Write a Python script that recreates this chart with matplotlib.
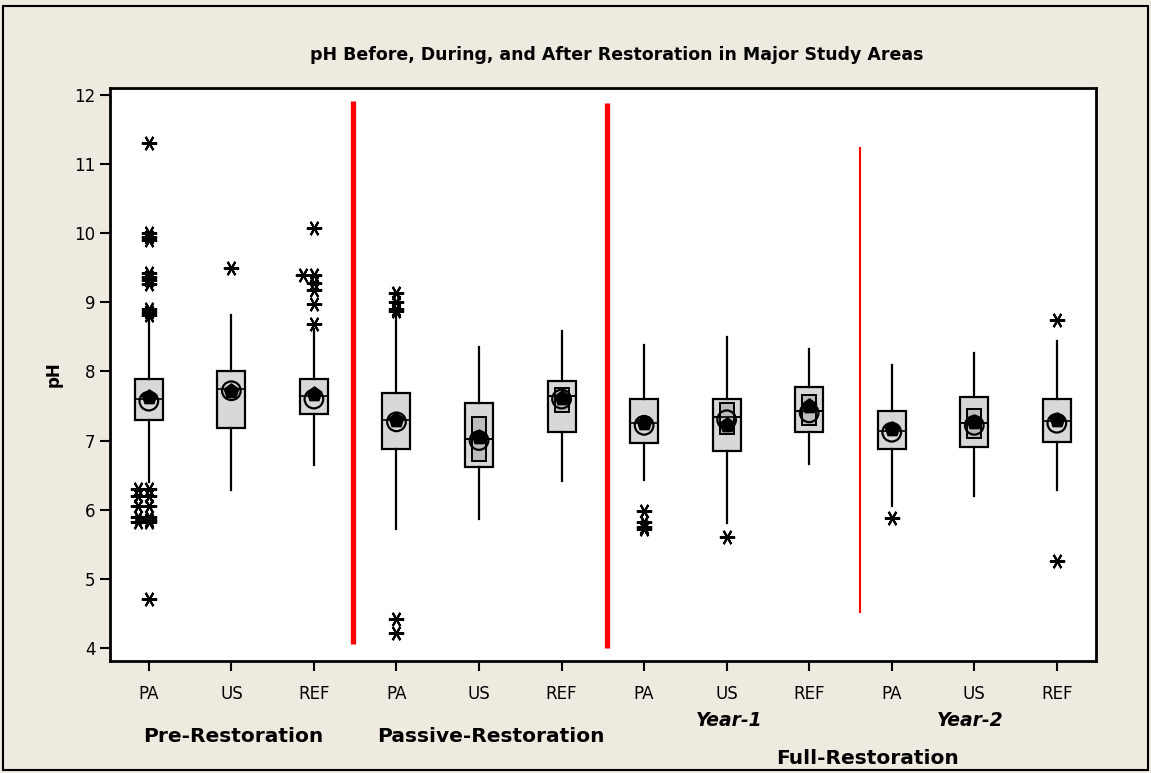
import matplotlib.pyplot as plt
from matplotlib.patches import Rectangle
import matplotlib.transforms as mtransforms
import numpy as np

# ---- data ----
site_labels = ['PA', 'US', 'REF'] * 4
q1 = [7.30, 7.18, 7.39, 6.87, 6.61, 7.13, 6.96, 6.85, 7.13, 6.87, 6.90, 6.98]
median = [7.60, 7.75, 7.64, 7.30, 7.02, 7.65, 7.26, 7.34, 7.42, 7.14, 7.26, 7.28]
q3 = [7.89, 8.00, 7.89, 7.69, 7.54, 7.86, 7.60, 7.60, 7.78, 7.42, 7.63, 7.60]
whisker_low = [6.40, 6.29, 6.64, 5.72, 5.86, 6.41, 6.43, 5.81, 6.66, 6.05, 6.19, 6.29]
whisker_high = [8.81, 8.81, 8.62, 8.86, 8.35, 8.59, 8.38, 8.50, 8.33, 8.09, 8.27, 8.44]
# median confidence boxes (None where not visible)
ci_low = [None, None, None, None, 6.70, 7.41, None, 7.09, 7.22, None, 7.04, None]
ci_high = [None, None, None, None, 7.34, 7.76, None, 7.54, 7.66, None, 7.46, None]
mean_circle = [7.57, 7.72, 7.60, 7.27, 7.00, 7.60, 7.22, 7.30, 7.40, 7.12, 7.22, 7.25]
mean_filled = [7.63, 7.72, 7.67, 7.30, 7.05, 7.62, 7.26, 7.22, 7.50, 7.17, 7.27, 7.30]
outliers = [
    [11.30, 10.00, 9.95, 9.90, 9.42, 9.37, 9.32, 9.27, 8.90, 8.86, 8.82,
     6.30, 6.30, 6.20, 6.20, 6.05, 6.05, 5.90, 5.90, 5.85, 5.82, 5.82, 4.70],
    [9.50],
    [10.08, 9.40, 9.40, 9.28, 9.18, 8.98, 8.69],
    [9.13, 9.00, 8.90, 8.87, 4.42, 4.22],
    [],
    [],
    [5.98, 5.82, 5.75, 5.72],
    [5.60],
    [],
    [5.88],
    [],
    [8.75, 5.25],
]
period_labels = ['Pre-Restoration', 'Passive-Restoration', 'Full-Restoration']
year_labels = ['Year-1', 'Year-2']
divider_x = [3.47, 6.55, 9.62]
divider_low = [4.06, 3.99, 4.50]
divider_high = [11.91, 11.88, 11.25]

bg = '#eeeae0'
fig = plt.figure(figsize=(11.51, 7.73), dpi=100, facecolor=bg)
ax = fig.add_axes([0.0956, 0.145, 0.857, 0.741])
ax.set_facecolor('white')

positions = np.arange(1, len(site_labels) + 1)
stats = []
for i in range(len(site_labels)):
    stats.append(dict(med=median[i], q1=q1[i], q3=q3[i],
                      whislo=whisker_low[i], whishi=whisker_high[i], fliers=[]))

ax.bxp(stats, positions=positions, widths=0.34, patch_artist=True, showcaps=False,
       boxprops=dict(facecolor='#d8d8d8', edgecolor='black', linewidth=1.6),
       whiskerprops=dict(color='black', linewidth=1.6),
       medianprops=dict(color='black', linewidth=1.2),
       showfliers=False, zorder=2)

# inner confidence boxes
for i, (lo, hi) in enumerate(zip(ci_low, ci_high)):
    if lo is None:
        continue
    p = positions[i]
    ax.add_patch(Rectangle((p - 0.085, lo), 0.17, hi - lo, facecolor='#bdbdbd',
                           edgecolor='black', linewidth=1.4, zorder=3))
    ax.hlines(median[i], p - 0.17, p + 0.17, color='black', linewidth=1.2, zorder=3.5)

# mean symbols
ax.scatter(positions, mean_filled, marker='p', s=120, color='black', zorder=4)
ax.scatter(positions, mean_circle, marker='o', s=180, facecolors='none',
           edgecolors='black', linewidths=1.6, zorder=5)

# outliers, side by side where values coincide
dodge = [0, -0.13, 0.13, -0.065, 0.065]
for p, vals in zip(positions, outliers):
    placed = []
    for v in vals:
        n = sum(abs(v - u) < 0.02 for u in placed)
        placed.append(v)
        ax.plot(p + dodge[n % len(dodge)], v, linestyle='none', marker=(6, 2, 90),
                markersize=11, markeredgewidth=1.5, color='black', zorder=6)

# red dividers
ax.vlines(divider_x[:2], divider_low[:2], divider_high[:2], color='red', linewidth=3.8, zorder=1)
ax.vlines(divider_x[2], divider_low[2], divider_high[2], color='red', linewidth=1.5, zorder=1)

ax.set_xlim(0.53, 12.48)
ax.set_ylim(3.81, 12.10)
ax.set_xticks(positions)
ax.set_xticklabels(site_labels, fontsize=12)
ax.set_yticks(np.arange(4, 13, 1))
ax.tick_params(axis='y', labelsize=12, length=7, width=1.5, direction='out')
ax.tick_params(axis='x', labelsize=12, length=7, width=1.5, direction='out', pad=10)
for s in ax.spines.values():
    s.set_linewidth(2)
ax.set_ylabel('pH', fontsize=12, weight='bold', labelpad=8)

fig.text(617 / 1151, 1 - 55 / 773, 'pH Before, During, and After Restoration in Major Study Areas',
         ha='center', va='center', fontsize=12.5, weight='bold')

# group labels under the axis
trans = mtransforms.blended_transform_factory(ax.transData, fig.transFigure)
ax.text(2.02, 1 - 737 / 773, period_labels[0], transform=trans, ha='center', va='center',
        fontsize=14.5, weight='bold')
ax.text(5.14, 1 - 737 / 773, period_labels[1], transform=trans, ha='center', va='center',
        fontsize=14.5, weight='bold')
ax.text(9.71, 1 - 758 / 773, period_labels[2], transform=trans, ha='center', va='center',
        fontsize=14.5, weight='bold')
ax.text(8.03, 1 - 720 / 773, year_labels[0], transform=trans, ha='center', va='center',
        fontsize=13.5, weight='bold', style='italic')
ax.text(10.95, 1 - 720 / 773, year_labels[1], transform=trans, ha='center', va='center',
        fontsize=13.5, weight='bold', style='italic')

# outer frame
fig.patches.append(Rectangle((3 / 1151, 3 / 773), 1145 / 1151, 764 / 773, transform=fig.transFigure,
                             fill=False, edgecolor='black', linewidth=1.5))

fig.savefig('out.png', dpi=100, facecolor=bg)
